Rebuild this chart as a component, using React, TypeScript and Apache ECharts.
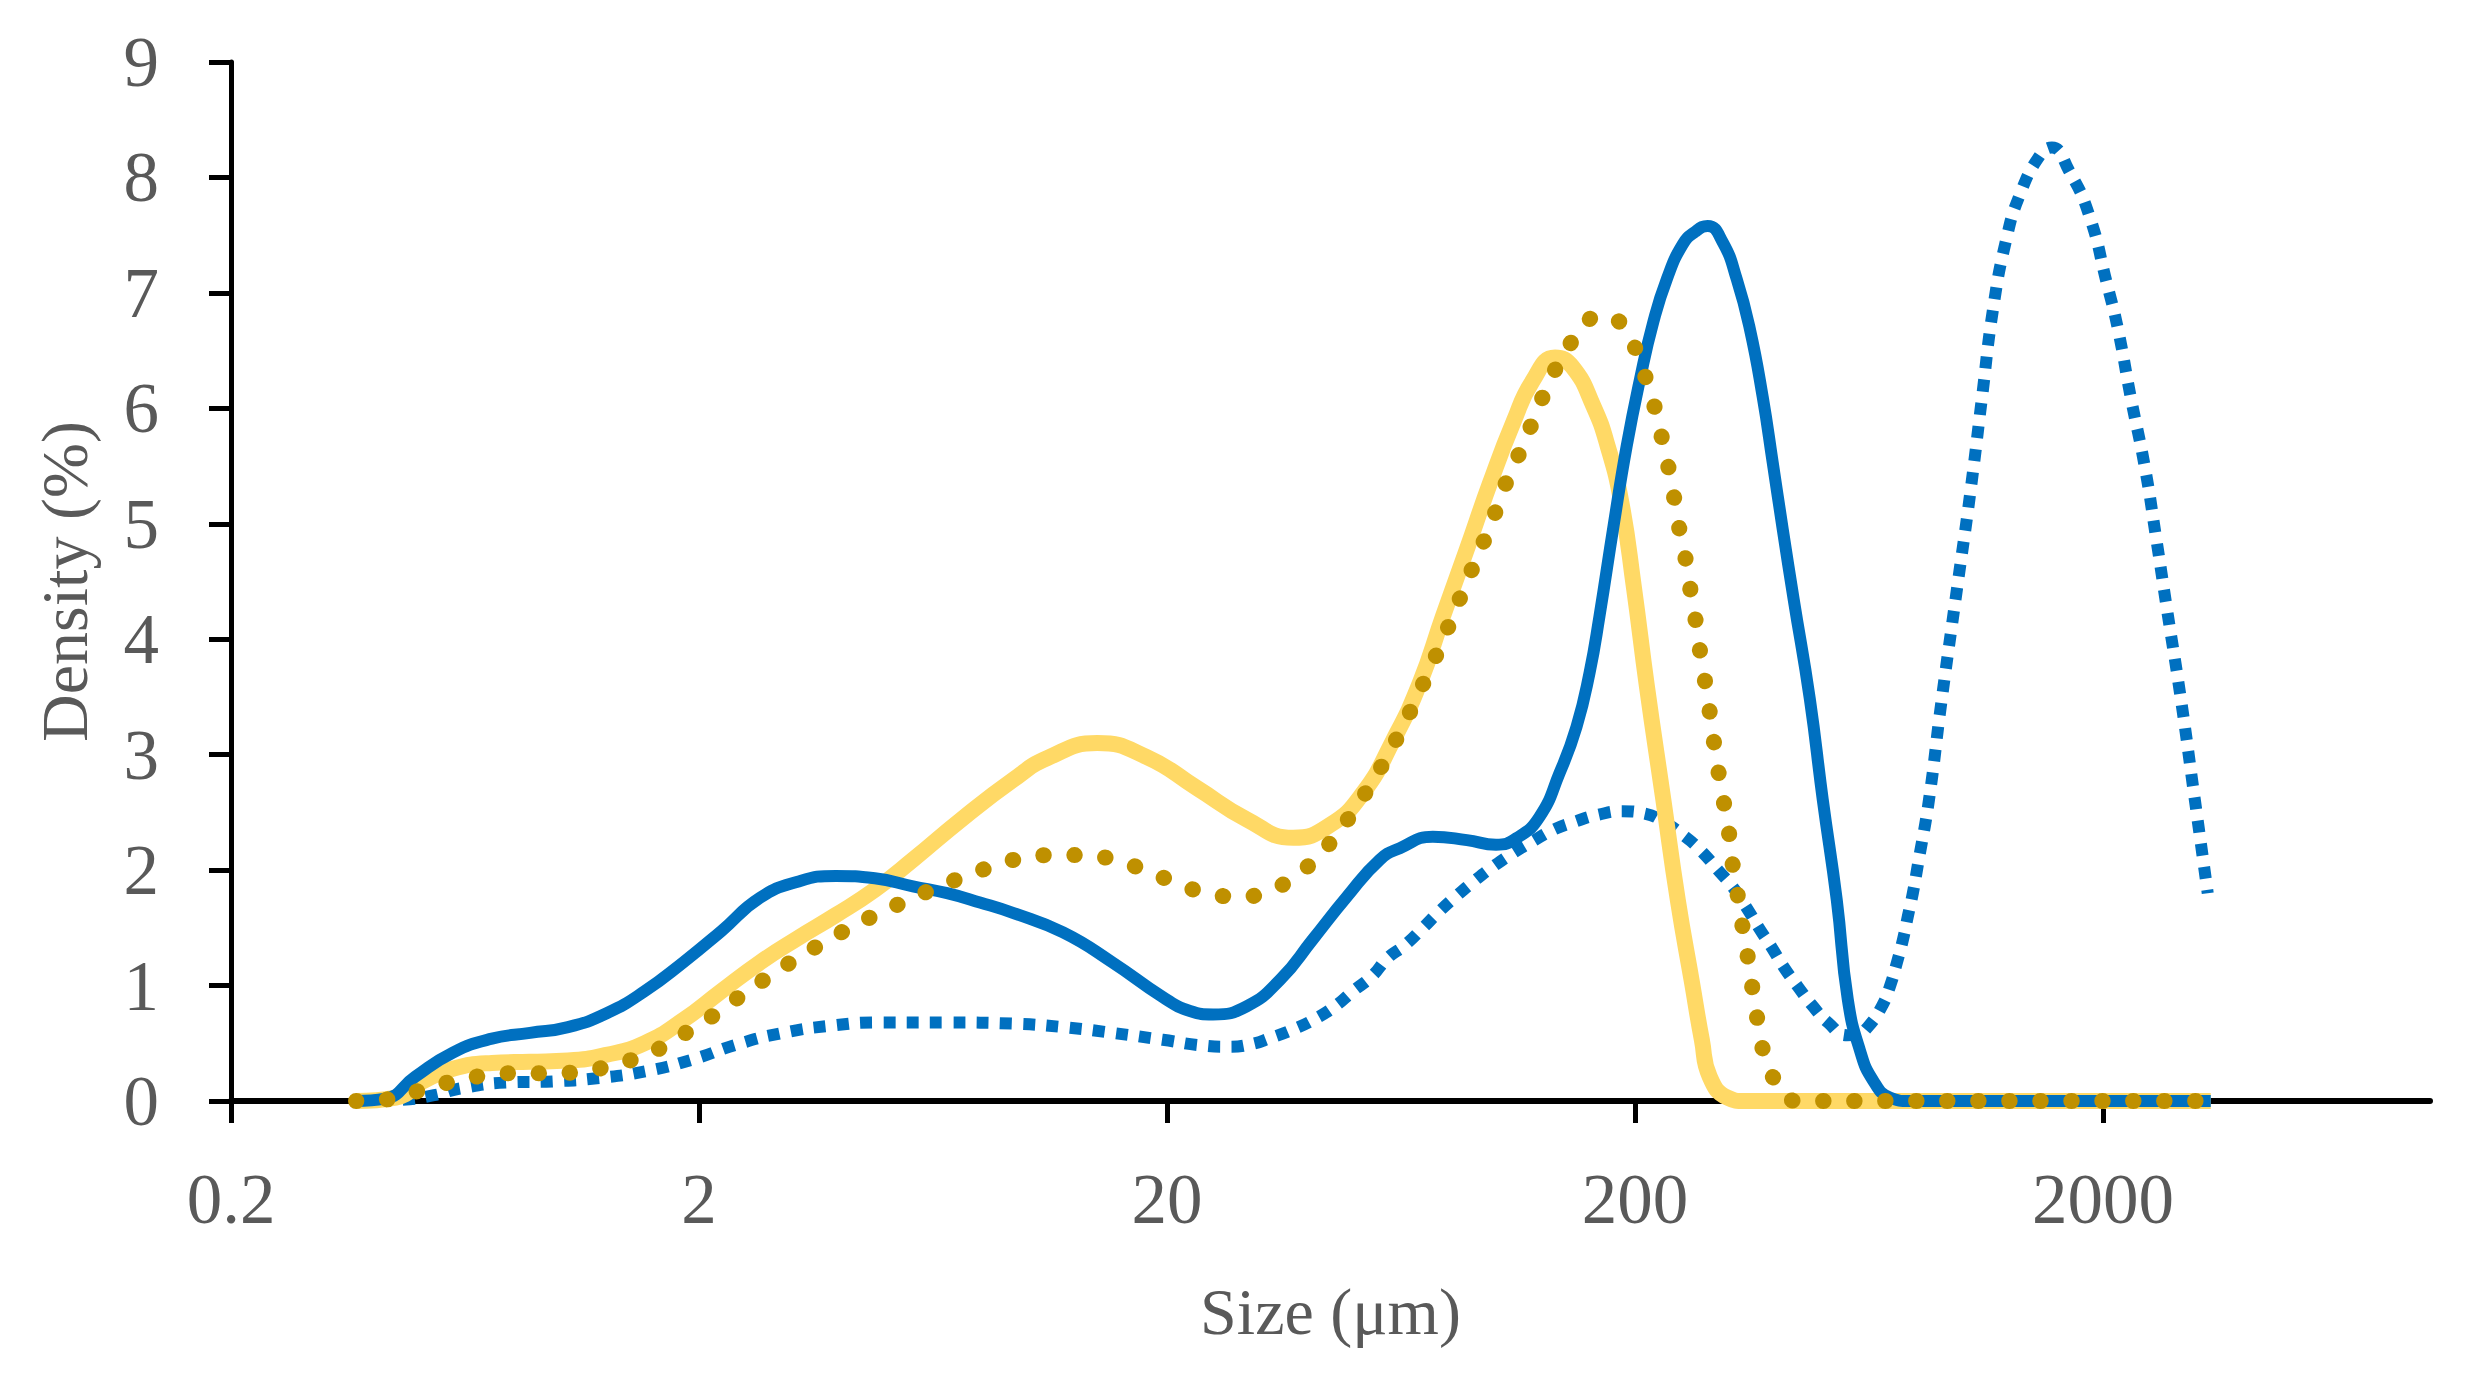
import { useEffect, useRef } from "react";
import * as echarts from "echarts";

// Particle size distribution: density (%) against size (µm) on a log scale.
const SIZE_MIN = 0.2;
const SIZE_MAX = 10000;
const sizeTicks = [0.2, 2, 20, 200, 2000];
const DENSITY_MIN = 0;
const DENSITY_MAX = 9;
const DENSITY_STEP = 1;

const X_TITLE = "Size (μm)";
const Y_TITLE = "Density (%)";

// [size µm, density %]
const blueSolid: [number, number][] = [
  [0.37, 0], [0.427, 0.02], [0.495, 0.21], [0.596, 0.42], [0.722, 0.54], [0.871, 0.59],
  [1.05, 0.64], [1.27, 0.76], [1.53, 0.95], [1.85, 1.2], [2.23, 1.47], [2.7, 1.76],
  [3.25, 1.9], [3.92, 1.95], [4.75, 1.93], [5.73, 1.86], [6.78, 1.8], [7.97, 1.72],
  [9.37, 1.63], [12.0, 1.46], [15.3, 1.2], [19.6, 0.9], [22.4, 0.78], [25.1, 0.75],
  [29.6, 0.82], [34.9, 1.05], [41.0, 1.4], [48.5, 1.77], [57.0, 2.09], [62.9, 2.19],
  [74.0, 2.29], [87.5, 2.26], [101, 2.22], [112, 2.28], [125, 2.46], [138, 2.84],
  [150, 3.24], [160, 3.71], [168, 4.2], [180, 4.98], [192, 5.67], [205, 6.25],
  [219, 6.75], [234, 7.12], [253, 7.42], [269, 7.53], [286, 7.58], [308, 7.44],
  [330, 7.12], [352, 6.69], [375, 6.1], [394, 5.53], [414, 4.95], [437, 4.34],
  [473, 3.48], [504, 2.61], [540, 1.74], [570, 0.88], [605, 0.44], [645, 0.18],
  [701, 0.03], [774, 0], [3400, 0],
];

const blueDotted: [number, number][] = [
  [0.37, 0], [0.459, 0.01], [0.543, 0.05], [0.62, 0.11], [0.778, 0.16], [0.975, 0.17],
  [1.23, 0.2], [1.55, 0.26], [1.94, 0.36], [2.41, 0.49], [3.02, 0.59], [3.79, 0.65],
  [4.87, 0.68], [6.78, 0.68], [9.37, 0.67], [12.0, 0.64], [15.3, 0.59], [19.6, 0.53],
  [23.9, 0.48], [26.9, 0.47], [30.1, 0.49], [33.5, 0.55], [37.2, 0.62], [41.4, 0.71],
  [45.7, 0.82], [49.9, 0.95], [54.8, 1.08], [59.3, 1.24], [64.5, 1.35], [70.5, 1.5],
  [76.3, 1.64], [83.3, 1.78], [91.0, 1.91], [99.5, 2.03], [110, 2.15], [121, 2.25],
  [134, 2.35], [149, 2.42], [167, 2.48], [188, 2.51], [210, 2.49], [230, 2.42],
  [256, 2.29], [278, 2.16], [301, 2.0], [324, 1.85], [347, 1.67], [368, 1.5],
  [392, 1.33], [416, 1.16], [446, 0.99], [478, 0.83], [517, 0.68], [568, 0.57],
  [599, 0.58], [629, 0.64], [674, 0.82], [701, 0.99], [726, 1.2], [748, 1.4],
  [766, 1.6], [785, 1.8], [805, 2.05], [850, 2.61], [901, 3.42], [975, 4.43],
  [1040, 5.25], [1103, 6.09], [1164, 6.85], [1241, 7.45], [1329, 7.85], [1467, 8.19],
  [1556, 8.26], [1692, 8.06], [1867, 7.68], [2040, 7.08], [2153, 6.69], [2295, 6.09],
  [2459, 5.49], [2596, 4.89], [2741, 4.26], [2936, 3.48], [3129, 2.67], [3350, 1.8],
];

const yellowSolid: [number, number][] = [
  [0.37, 0], [0.45, 0.03], [0.514, 0.17], [0.596, 0.28], [0.722, 0.33], [0.871, 0.34],
  [1.05, 0.35], [1.27, 0.4], [1.53, 0.5], [1.85, 0.7], [2.23, 0.95], [2.7, 1.2],
  [3.25, 1.41], [3.92, 1.61], [4.75, 1.83], [5.73, 2.09], [7.33, 2.45], [9.37, 2.78],
  [11.1, 2.97], [14.2, 3.1], [18.1, 2.98], [23.2, 2.71], [29.6, 2.44], [37.2, 2.28],
  [44.6, 2.39], [52.5, 2.67], [60.8, 3.12], [69.4, 3.62], [77.8, 4.2], [87.5, 4.78],
  [98.0, 5.35], [110, 5.88], [121, 6.24], [135, 6.44], [147, 6.36], [163, 6.02],
  [175, 5.67], [187, 5.19], [199, 4.45], [212, 3.6], [230, 2.61], [247, 1.74],
  [265, 1.02], [278, 0.53], [289, 0.21], [315, 0.03], [344, 0], [3400, 0],
];

const goldDotted: [number, number][] = [
  [0.37, 0], [0.444, 0.02], [0.514, 0.1], [0.596, 0.17], [0.694, 0.22], [0.809, 0.24],
  [0.942, 0.24], [1.1, 0.25], [1.28, 0.3], [1.49, 0.38], [1.71, 0.49], [1.94, 0.63],
  [2.22, 0.78], [2.51, 0.94], [2.85, 1.09], [3.25, 1.24], [3.72, 1.38], [4.25, 1.51],
  [4.87, 1.63], [5.59, 1.74], [6.45, 1.85], [7.44, 1.95], [8.62, 2.04], [10.0, 2.11],
  [11.6, 2.13], [13.6, 2.13], [15.8, 2.07], [18.3, 1.99], [21.1, 1.88], [24.5, 1.8],
  [28.5, 1.77], [33.0, 1.82], [37.9, 1.96], [42.5, 2.14], [46.9, 2.35], [51.2, 2.57],
  [55.6, 2.8], [59.9, 3.03], [64.5, 3.28], [68.8, 3.52], [73.3, 3.76], [78.2, 4.02],
  [82.9, 4.27], [87.9, 4.52], [93.3, 4.77], [99.0, 5.02], [104, 5.27], [111, 5.53],
  [118, 5.78], [125, 6.03], [133, 6.28], [143, 6.51], [157, 6.74], [168, 6.8],
  [180, 6.78], [198, 6.56], [209, 6.31], [219, 6.05], [227, 5.79], [235, 5.52],
  [242, 5.25], [248, 4.99], [256, 4.72], [262, 4.46], [269, 4.19], [275, 3.92],
  [282, 3.65], [289, 3.37], [295, 3.11], [302, 2.84], [310, 2.58], [318, 2.31],
  [324, 2.03], [332, 1.77], [340, 1.5], [349, 1.23], [357, 0.96], [366, 0.69],
  [377, 0.42], [400, 0.17], [446, 0], [3400, 0],
];

const BLUE = "#0070C0";
const YELLOW = "#FFD966";
const GOLD = "#BF9000";
const LABEL_GREY = "#595959";
const SERIF = "'Liberation Serif', 'Times New Roman', serif";

// Sizes are plotted as decades above SIZE_MIN so the ticks fall on 0.2, 2, 20, ...
const toAxis = (size: number) => Math.log10(size / SIZE_MIN);

const GRID = { left: 231, right: 39, top: 62, bottom: 278 };
const W = 2469;
const H = 1379;

function lineSeries(
  name: string,
  points: [number, number][],
  color: string,
  width: number,
  dash: number[] | "solid",
  cap: "butt" | "round",
  z: number
) {
  return {
    type: "line",
    name,
    data: points.map(([s, v]) => [toAxis(s), v]),
    showSymbol: false,
    symbol: "none",
    smooth: 0.5,
    silent: true,
    z,
    lineStyle: { color, width, type: dash, cap, join: "round" },
  };
}

export default function App() {
  const ref = useRef<HTMLDivElement>(null);

  useEffect(() => {
    if (!ref.current) return;
    const chart = echarts.init(ref.current, null, { renderer: "svg" });
    const tickPositions = sizeTicks.map(toAxis);

    chart.setOption({
      animation: false,
      backgroundColor: "#ffffff",
      grid: { ...GRID, containLabel: false, outerBoundsMode: "none" },
      xAxis: {
        type: "value",
        min: 0,
        max: toAxis(SIZE_MAX),
        axisLine: { show: true, onZero: false, lineStyle: { color: "#000", width: 6 } },
        axisTick: {
          show: true,
          customValues: tickPositions,
          length: 22,
          lineStyle: { color: "#000", width: 5 },
        },
        axisLabel: {
          customValues: tickPositions,
          formatter: (v: number) => {
            const i = tickPositions.findIndex((t) => Math.abs(t - v) < 1e-6);
            return i >= 0 ? String(sizeTicks[i]) : "";
          },
          color: LABEL_GREY,
          fontSize: 71,
          fontFamily: SERIF,
          margin: 62,
        },
        splitLine: { show: false },
      },
      yAxis: {
        type: "value",
        min: DENSITY_MIN,
        max: DENSITY_MAX,
        interval: DENSITY_STEP,
        axisLine: { show: true, lineStyle: { color: "#000", width: 5 } },
        axisTick: { show: true, length: 22, lineStyle: { color: "#000", width: 5 } },
        axisLabel: {
          color: LABEL_GREY,
          fontSize: 71,
          fontFamily: SERIF,
          margin: 72,
        },
        splitLine: { show: false },
      },
      graphic: [
        {
          type: "text",
          x: GRID.left + (W - GRID.left - GRID.right) / 2,
          y: 1311,
          silent: true,
          style: {
            text: X_TITLE,
            fill: LABEL_GREY,
            fontSize: 66,
            fontFamily: SERIF,
            align: "center",
            verticalAlign: "middle",
          },
        },
        {
          type: "text",
          x: 64,
          y: GRID.top + (H - GRID.top - GRID.bottom) / 2,
          rotation: Math.PI / 2,
          silent: true,
          style: {
            text: Y_TITLE,
            fill: LABEL_GREY,
            fontSize: 66,
            fontFamily: SERIF,
            align: "center",
            verticalAlign: "middle",
          },
        },
      ],
      series: [
        lineSeries("Dotted blue", blueDotted, BLUE, 12, [12, 11.3], "butt", 2),
        lineSeries("Yellow", yellowSolid, YELLOW, 16, "solid", "butt", 3),
        lineSeries("Solid blue", blueSolid, BLUE, 12, "solid", "butt", 4),
        lineSeries("Dotted gold", goldDotted, GOLD, 16, [0.5, 30.5], "round", 5),
      ],
    });

    return () => chart.dispose();
  }, []);

  return (
    <div
      ref={ref}
      style={{ position: "fixed", left: 0, top: 0, width: W, height: H, background: "#fff" }}
    />
  );
}
